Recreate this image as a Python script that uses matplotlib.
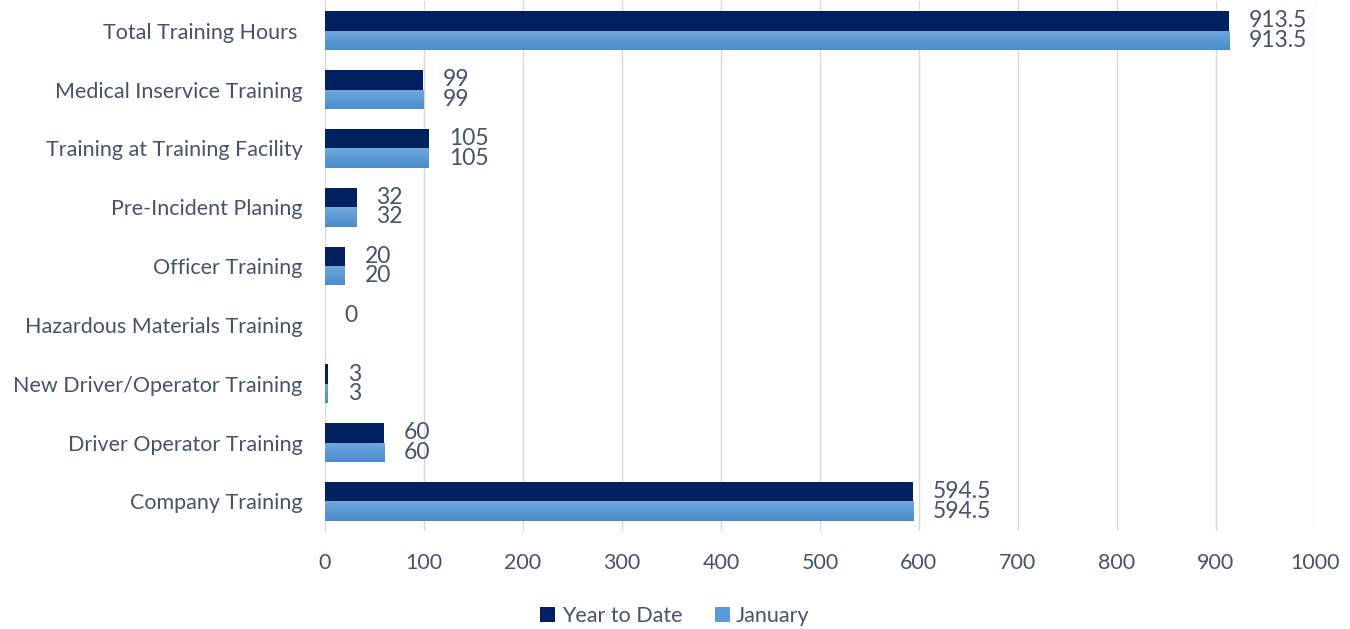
import matplotlib
matplotlib.use("Agg")
import matplotlib.pyplot as plt
import numpy as np
from matplotlib.colors import LinearSegmentedColormap

categories = ['Company Training', 'Driver Operator Training', 'New Driver/Operator Training',
              'Hazardous Materials Training', 'Officer Training', 'Pre-Incident Planing',
              'Training at Training Facility', 'Medical Inservice Training', 'Total Training Hours ']
year_to_date = [594.5, 60, 3, 0, 20, 32, 105, 99, 913.5]
january = [594.5, 60, 3, np.nan, 20, 32, 105, 99, 913.5]
series_names = ['Year to Date', 'January']
xticks = [0, 100, 200, 300, 400, 500, 600, 700, 800, 900, 1000]

text_color = '#44546A'
dark = '#002060'
light = '#5B9BD5'
size = 15.5
plt.rcParams['font.family'] = ['Lato', 'DejaVu Sans']

fig = plt.figure(figsize=(13.5, 6.29), dpi=100)
ax = fig.add_axes([0.2407, 0.156, 0.7333, 0.842])

y = np.arange(len(categories))
h = 0.33
bars_ytd = ax.barh(y + h / 2, year_to_date, height=h, color=dark, label=series_names[0], zorder=3)
jan_vals = [0 if np.isnan(v) else v for v in january]
bars_jan = ax.barh(y - h / 2, jan_vals, height=h, color=light, label=series_names[1], zorder=3)

# gradient fill on the light bars
cmap = LinearSegmentedColormap.from_list('jan', ['#4A8BCB', '#70A9DD'])
grad = np.linspace(0, 1, 64).reshape(-1, 1)
for b in bars_jan:
    if b.get_width() <= 0:
        continue
    x0, y0 = b.get_x(), b.get_y()
    im = ax.imshow(grad, cmap=cmap, aspect='auto', origin='lower',
                   extent=[x0, x0 + b.get_width(), y0, y0 + b.get_height()], zorder=3.5)
    im.set_clip_path(b)

lsize = 16.5
for i, v in enumerate(year_to_date):
    ax.text(v + 20, y[i] + h / 2, f'{v:g}', va='center', ha='left', fontsize=lsize, color=text_color)
for i, v in enumerate(january):
    if np.isnan(v):
        continue
    ax.text(v + 20, y[i] - h / 2, f'{v:g}', va='center', ha='left', fontsize=lsize, color=text_color)

ax.set_xlim(0, 1000)
ax.set_ylim(-0.5, len(categories) - 0.5)
ax.set_xticks(xticks)
ax.set_yticks(y)
ax.set_yticklabels(categories)
ax.tick_params(axis='both', length=0, labelsize=size, labelcolor=text_color)
ax.tick_params(axis='y', pad=16)
ax.tick_params(axis='x', pad=16)
ax.grid(axis='x', color='#D9D9D9', linewidth=1, zorder=0)
for s in ['top', 'right', 'bottom']:
    ax.spines[s].set_visible(False)
ax.spines['left'].set_color('#D9D9D9')

leg = fig.legend(handles=[bars_ytd, bars_jan], labels=series_names, loc='lower center',
                 bbox_to_anchor=(0.5, -0.026), ncol=2, frameon=False, fontsize=size,
                 handlelength=0.7, handleheight=0.7, handletextpad=0.3, columnspacing=1.5)
for t in leg.get_texts():
    t.set_color(text_color)

fig.savefig('out.png', dpi=100)
